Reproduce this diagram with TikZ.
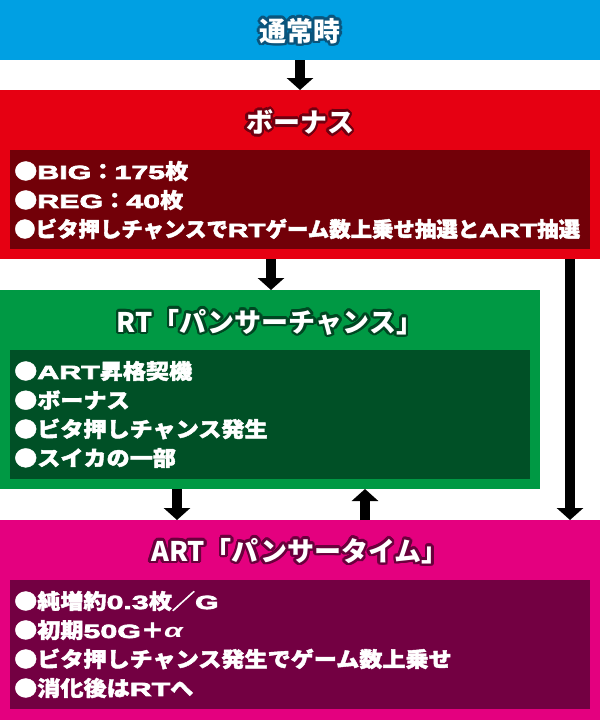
\documentclass[tikz,border=0pt]{standalone}
\usepackage{graphicx}
\usepackage{fontspec}
\setmainfont{Noto Sans CJK JP}
\newfontfamily\jpbody{Noto Sans CJK JP}[FakeStretch=1.1, BoldFeatures={FakeBold=2}]
\newfontfamily\latbody{Liberation Sans}[FakeStretch=1.6, BoldFeatures={FakeBold=4}]
\newcommand\Lrun[1]{{\latbody\fontsize{19}{21}\selectfont\bfseries #1}}
\usetikzlibrary{arrows.meta,calc}
\definecolor{cblue}{RGB}{0,160,227}
\definecolor{cblueD}{RGB}{10,84,124}
\definecolor{cred}{RGB}{230,0,18}
\definecolor{credI}{RGB}{114,0,8}
\definecolor{credD}{RGB}{110,0,16}
\definecolor{cgreen}{RGB}{0,153,68}
\definecolor{cgreenI}{RGB}{0,80,38}
\definecolor{cgreenD}{RGB}{0,70,34}
\definecolor{cpink}{RGB}{228,0,127}
\definecolor{cpinkI}{RGB}{115,0,66}
\definecolor{cpinkD}{RGB}{105,0,60}
% title with a dark halo: name, position, halo colour, text
\newcommand\ttlnode[4]{%
  \foreach \a [count=\i] in {0,22.5,...,337.5}
    \node[ttl, text=#3] (#1o\i) at ($(#2)+(\a:2.6)$) {#4};
  \node[ttl] (#1) at (#2) {#4};}
\begin{document}
\begin{tikzpicture}[x=1pt,y=-1pt,
  band/.style={draw=none, inner sep=0pt, outer sep=0pt, anchor=north west},
  ttl/.style={text=white, font=\fontsize{27}{27}\selectfont\bfseries, inner sep=0pt},
  item/.style={text=white, font=\jpbody\fontsize{21}{21}\selectfont\bfseries, anchor=west, inner sep=0pt},
  arr/.style={line width=10pt, black, -{Triangle[width=26pt,length=12pt]}}]
\useasboundingbox (0,0) rectangle (600,720);
% bands
\node[band, fill=cblue, minimum width=600pt, minimum height=60pt] (blue) at (0,0) {};
\node[band, fill=cred, minimum width=600pt, minimum height=169pt] (red) at (0,90) {};
\node[band, fill=credI, minimum width=580pt, minimum height=99pt] (redin) at (10,150) {};
\node[band, fill=cgreen, minimum width=540pt, minimum height=199pt] (green) at (0,290) {};
\node[band, fill=cgreenI, minimum width=520pt, minimum height=129pt] (greenin) at (10,350) {};
\node[band, fill=cpink, minimum width=600pt, minimum height=200pt] (pink) at (0,520) {};
\node[band, fill=cpinkI, minimum width=580pt, minimum height=129pt] (pinkin) at (10,580) {};
% titles
\ttlnode{t1}{300,31}{cblueD}{通常時}
\ttlnode{t2}{300,122}{credD}{ボーナス}
\ttlnode{t3}{270,322}{cgreenD}{RT「パンサーチャンス」}
\ttlnode{t4}{300,551}{cpinkD}{ART「パンサータイム」}
% items
\node[item] (b1) at (14,171) {●\Lrun{BIG}：\Lrun{175}枚};
\node[item] (b2) at (14,200) {●\Lrun{REG}：\Lrun{40}枚};
\node[item] (b3) at (14,229) {\scalebox{0.928}[1]{●ビタ押しチャンスで\Lrun{RT}ゲーム数上乗せ抽選と\Lrun{ART}抽選}};
\node[item] (g1) at (14,371) {●\Lrun{ART}昇格契機};
\node[item] (g2) at (14,400) {●ボーナス};
\node[item] (g3) at (14,429) {●ビタ押しチャンス発生};
\node[item] (g4) at (14,458) {●スイカの一部};
\node[item] (p1) at (14,601) {●純増約\Lrun{0.3}枚／\Lrun{G}};
\node[item] (p2) at (14,630) {●初期\Lrun{50G}＋\Lrun{\itshape α}};
\node[item] (p3) at (14,659) {●ビタ押しチャンス発生でゲーム数上乗せ};
\node[item] (p4) at (14,688) {●消化後は\Lrun{RT}へ};
% arrows
\coordinate (x1) at (300,0);
\coordinate (x2) at (271,0);
\coordinate (x3) at (570,0);
\coordinate (x4) at (177,0);
\coordinate (x5) at (365,0);
\draw[arr] (blue.south -| x1) -- (red.north -| x1);
\draw[arr] (red.south -| x2) -- (green.north -| x2);
\draw[arr] (red.south -| x3) -- (pink.north -| x3);
\draw[arr] (green.south -| x4) -- (pink.north -| x4);
\draw[arr] (pink.north -| x5) -- (green.south -| x5);
\end{tikzpicture}
\end{document}
